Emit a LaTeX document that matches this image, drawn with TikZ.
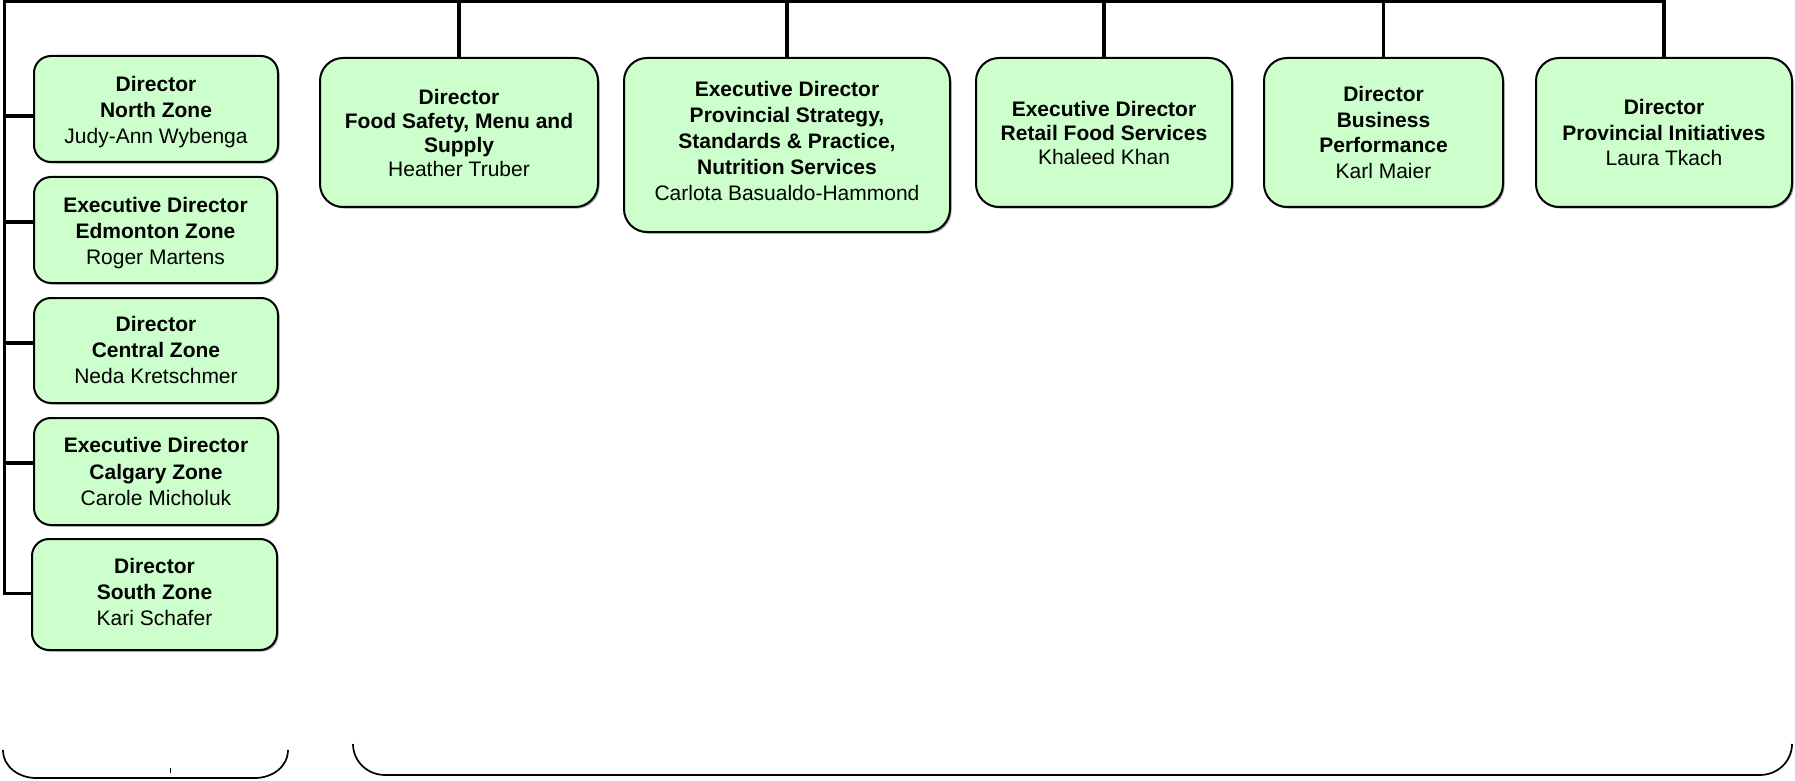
\documentclass[tikz,border=0pt]{standalone}
\usepackage{fontspec}
\setmainfont{Liberation Sans}
\usetikzlibrary{shadows}
\definecolor{boxgreen}{HTML}{CCFFCC}
\newcommand{\boxtext}[2]{\raisebox{#1}[\height][\depth]{\begin{tabular}{@{}c@{}}#2\end{tabular}}}
\begin{document}
\begin{tikzpicture}[x=0.5pt,y=-0.5pt,
  box/.style={draw=black, line width=1pt, fill=boxgreen, inner sep=0pt, align=center,
    general shadow={shadow xshift=0.8pt, shadow yshift=-0.8pt, fill=black!35}},
  lbox/.style={box, rounded corners=8.5pt, font=\fontsize{10.5}{13.15}\selectfont},
  tbox/.style={box, rounded corners=11.5pt, font=\fontsize{10.5}{12}\selectfont},
  wbox/.style={box, rounded corners=11.5pt, font=\fontsize{10.5}{12.9}\selectfont},
  conn/.style={draw=black, line width=1.75pt, line join=miter},
  bracket/.style={draw=black, line width=0.85pt}]
\useasboundingbox (0,0) rectangle (1795,781);
\fill[white] (0,0) rectangle (1795,781);

% left column
\node[lbox, minimum width=122pt, minimum height=53pt] (north) at (156,109)
  {\boxtext{-1.7pt}{\textbf{Director}\\\textbf{North Zone}\\Judy-Ann Wybenga}};
\node[lbox, minimum width=121.5pt, minimum height=53pt] (edmonton) at (155.5,230)
  {\boxtext{-1.7pt}{\textbf{Executive Director}\\\textbf{Edmonton Zone}\\Roger Martens}};
\node[lbox, minimum width=122pt, minimum height=52.5pt] (central) at (156,350.5)
  {\boxtext{-0.9pt}{\textbf{Director}\\\textbf{Central Zone}\\Neda Kretschmer}};
\node[lbox, minimum width=122pt, minimum height=53.5pt] (calgary) at (156,471.5)
  {\boxtext{-1.2pt}{\textbf{Executive Director}\\\textbf{Calgary Zone}\\Carole Micholuk}};
\node[lbox, minimum width=122.5pt, minimum height=55.5pt, font=\fontsize{10.5}{12.9}\selectfont] (south) at (154.5,594.5)
  {\boxtext{0pt}{\textbf{Director}\\\textbf{South Zone}\\Kari Schafer}};

% top row
\node[tbox, minimum width=139pt, minimum height=74.5pt] (food) at (459,132.5)
  {\textbf{Director}\\\textbf{Food Safety, Menu and}\\\textbf{Supply}\\Heather Truber};
\node[wbox, minimum width=163pt, minimum height=87pt, font=\fontsize{10.5}{13}\selectfont] (strategy) at (787,145)
  {\boxtext{1pt}{\textbf{Executive Director}\\\textbf{Provincial Strategy,}\\\textbf{Standards \& Practice,}\\\textbf{Nutrition Services}\\Carlota Basualdo-Hammond}};
\node[tbox, minimum width=128pt, minimum height=74.5pt] (retail) at (1104,132.5)
  {\textbf{Executive Director}\\\textbf{Retail Food Services}\\Khaleed Khan};
\node[wbox, minimum width=119.5pt, minimum height=74.5pt, font=\fontsize{10.5}{12.8}\selectfont] (business) at (1383.5,132.5)
  {\textbf{Director}\\\textbf{Business}\\\textbf{Performance}\\Karl Maier};
\node[wbox, minimum width=128pt, minimum height=74.5pt] (init) at (1664,132.5)
  {\textbf{Director}\\\textbf{Provincial Initiatives}\\Laura Tkach};

% connectors
\coordinate (corner) at (4.5,1.5);
\draw[conn] ([yshift=0.5pt]south.west) -| (corner) -| (init.north);
\draw[conn] ([yshift=-3.5pt]north.west) -- ++(-29.5,0);
\draw[conn] ([yshift=4pt]edmonton.west) -- ++(-29.5,0);
\draw[conn] ([yshift=3.75pt]central.west) -- ++(-29.5,0);
\draw[conn] ([yshift=4.25pt]calgary.west) -- ++(-29.5,0);
\draw[conn] (food.north) -- (food.north |- corner);
\draw[conn] (strategy.north) -- (strategy.north |- corner);
\draw[conn] (retail.north) -- (retail.north |- corner);
\draw[conn] (business.north) -- (business.north |- corner);

% brackets
\draw[bracket] (3,750) to[out=-90,in=180] (36,778) -- (255,778) to[out=0,in=-90] (288,750);
\draw[black, line width=0.5pt] (170,768) -- (170,773);
\draw[bracket] (353,744) to[out=-90,in=180] (385,775) -- (1760,775) to[out=0,in=-90] (1792,744);
\end{tikzpicture}
\end{document}
